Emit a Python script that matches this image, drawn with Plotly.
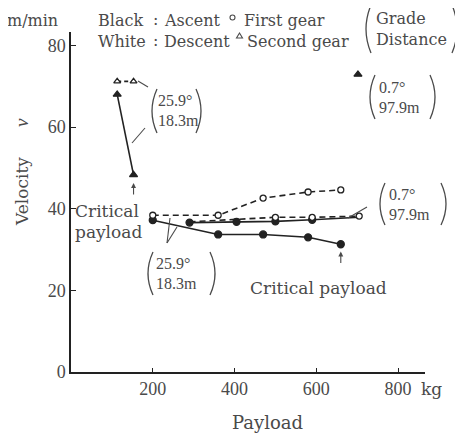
import plotly.graph_objects as go

# ---------------- data ----------------
# First gear, grade 25.9 deg (18.3 m)
fg259_desc_x = [200, 360, 470, 580, 660]
fg259_desc_v = [38.4, 38.4, 42.6, 44.1, 44.6]
fg259_asc_x = [200, 360, 470, 580, 660]
fg259_asc_v = [37.2, 33.7, 33.7, 33.0, 31.3]
# First gear, grade 0.7 deg (97.9 m)
fg07_asc_x = [290, 405, 500, 590, 705]
fg07_asc_v = [36.6, 36.8, 36.9, 37.3, 37.9]
fg07_desc_x = [290, 500, 590, 705]
fg07_desc_v = [36.8, 37.9, 37.9, 38.2]
# Second gear
sg259_desc_x = [113, 153]
sg259_desc_v = [71.2, 71.2]
sg259_asc_x = [113, 153]
sg259_asc_v = [68.0, 48.3]
sg07_asc_x = [702]
sg07_asc_v = [72.9]

x_ticks = [200, 400, 600, 800]
y_ticks = [0, 20, 40, 60, 80]

# ---------------- layout geometry (page pixels; page has an 8px body margin) ----------------
OFF = 8
W, H = 463 - OFF, 433 - OFF
PL, PR, PT, PB = 71, 425, 32, 372          # plot area in page pixels
L, R, T, B = PL - OFF, 463 - PR, PT - OFF, 433 - PB
PW, PH = PR - PL, PB - PT
XMAX, YMAX = 866, 83.3

def px(x):
    return (x - PL) / PW

def py(y):
    return (PB - y) / PH

SERIF = "DejaVu Serif"
NUM = "Liberation Serif"
TXT = "#4a4a4a"
INK = "#222222"

fig = go.Figure()

def add(x, y, dash, symbol, fill, size=7, opac=None, mode="lines+markers"):
    fig.add_trace(go.Scatter(
        x=x, y=y, mode=mode,
        line=dict(color=INK, width=1.6, dash=dash),
        marker=dict(symbol=symbol, size=size, color=fill,
                    opacity=opac if opac else 1,
                    line=dict(color=INK, width=1.3)),
        showlegend=False, hoverinfo="skip"))

add(fg259_asc_x, fg259_asc_v, "solid", "circle", INK)
add(fg07_asc_x, fg07_asc_v, "solid", "circle", INK, opac=[1, 1, 1, 1, 0])
add(fg259_desc_x, fg259_desc_v, "6px,4px", "circle", "white", size=6)
add(fg07_desc_x, fg07_desc_v, "6px,4px", "circle", "white", size=6, opac=[0, 1, 1, 1])
add(sg259_asc_x, sg259_asc_v, "solid", "triangle-up", INK)
add(sg259_desc_x, sg259_desc_v, "4px,3px", "triangle-up", "white", size=6)
add(sg07_asc_x, sg07_asc_v, "solid", "triangle-up", INK, mode="markers")

shapes = []
ann = []

def text(s, x, y, size=16, xanchor="left", angle=0, fam=SERIF):
    ann.append(dict(text=s, x=px(x), y=py(y), xref="paper", yref="paper",
                    xanchor=xanchor, yanchor="middle", showarrow=False,
                    textangle=angle, borderpad=0,
                    font=dict(family=fam, size=size, color=TXT)))

def seg(x0, y0, x1, y1, w=1.1):
    shapes.append(dict(type="line", xref="paper", yref="paper",
                       x0=px(x0), y0=py(y0), x1=px(x1), y1=py(y1),
                       line=dict(color=TXT, width=w)))

def paren(x, y0, y1, bulge, color=TXT):
    ym = (y0 + y1) / 2
    path = "M %f,%f Q %f,%f %f,%f" % (px(x), py(y0), px(x - bulge), py(ym), px(x), py(y1))
    shapes.append(dict(type="path", xref="paper", yref="paper", path=path,
                       line=dict(color=color, width=1.3)))

def label2(l1, l2, xl, xr, ytop, ybot, xtext, size=16, fam=NUM, gap=10):
    paren(xl, ytop, ybot, 10)
    paren(xr, ytop, ybot, -10)
    ym = (ytop + ybot) / 2
    text(l1, xtext, ym - gap, size, fam=fam)
    text(l2, xtext, ym + gap, size, fam=fam)

def arrow_up(xd, yd, length=13):
    ann.append(dict(x=xd, y=yd, xref="x", yref="y", text="", showarrow=True,
                    ax=0, ay=length, arrowhead=2, arrowsize=0.9, arrowwidth=1.1,
                    arrowcolor=TXT))

# header
text("m/min", 6, 21, 16)
text("Black", 97, 21, 16)
text(":", 155, 20, 16, xanchor="center")
text("Ascent", 163, 21, 16)
text("First gear", 243, 21, 16)
text("White", 97, 41, 16)
text(":", 155, 40, 16, xanchor="center")
text("Descent", 163, 41, 16)
text("Second gear", 246, 41, 16)
shapes.append(dict(type="circle", xref="paper", yref="paper",
                   x0=px(230), x1=px(235), y0=py(15), y1=py(20),
                   line=dict(color=TXT, width=1.1)))
shapes.append(dict(type="path", xref="paper", yref="paper",
                   path="M %f,%f L %f,%f L %f,%f Z" % (px(236.5), py(38), px(242.5), py(38), px(239.5), py(33)),
                   line=dict(color=TXT, width=1.1)))
label2("Grade", "Distance", 371, 452, 5, 53, 375, 16, fam=SERIF)

# axis titles
text("Velocity", 22, 192, 17, xanchor="center", angle=-90)
text("<i>v</i>", 21, 123, 19, xanchor="center", angle=-90, fam=NUM)
text("Payload", 267, 423, 18, xanchor="center")
text("kg", 431, 389, 17, xanchor="center")

# annotations in plot
label2("25.9\u00b0", "18.3m", 157, 196, 89, 133, 157)
seg(132, 143, 145, 128)
seg(138, 81, 148, 87)
label2("0.7\u00b0", "97.9m", 375, 430, 75, 119, 378)
label2("0.7\u00b0", "97.9m", 385, 441, 183, 225, 388)
seg(348, 218, 367, 207)
label2("25.9\u00b0", "18.3m", 153, 210, 252, 295, 155)
seg(167, 243, 170, 218)
seg(167, 243, 177, 227)
text("Critical", 74, 211, 17)
text("payload", 74, 232, 17)
text("Critical payload", 318, 288, 17, xanchor="center")
arrow_up(153, 46.3)
arrow_up(660, 29.5)

fig.update_layout(
    width=W, height=H, margin=dict(l=L, r=R, t=T, b=B, pad=0),
    paper_bgcolor="white", plot_bgcolor="white",
    shapes=shapes, annotations=ann,
    font=dict(family=NUM, size=18, color=TXT),
    xaxis=dict(range=[0, XMAX], tickvals=x_ticks, ticks="inside", ticklen=4,
               tickcolor=INK, showline=True, linecolor=INK, linewidth=1.5,
               showgrid=False, zeroline=False,
               tickfont=dict(family=NUM, size=18, color=TXT)),
    yaxis=dict(range=[0, YMAX], tickvals=y_ticks, ticks="inside", ticklen=5,
               tickcolor=INK, showline=True, linecolor=INK, linewidth=1.5,
               showgrid=False, zeroline=False,
               tickfont=dict(family=NUM, size=18, color=TXT)),
)

fig.write_html("out.html")
